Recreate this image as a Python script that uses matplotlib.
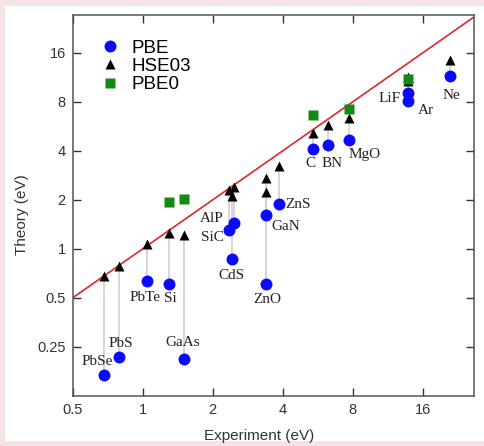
import numpy as np
import matplotlib
matplotlib.use("Agg")
from matplotlib import pyplot as plt
from matplotlib.patches import Rectangle

# band gaps (eV): experiment, PBE, HSE03, PBE0 (nan = not computed)
names = ['PbSe', 'PbS', 'PbTe', 'Si', 'GaAs', 'SiC', 'AlP', 'CdS', 'ZnO', 'GaN',
         'ZnS', 'C', 'BN', 'MgO', 'LiF', 'Ar', 'Ne']
exp_gap = [0.68, 0.79, 1.04, 1.30, 1.505, 2.36, 2.47, 2.43, 3.38, 3.38,
           3.86, 5.38, 6.29, 7.74, 13.9, 13.9, 21.0]
pbe_gap = [0.167, 0.215, 0.633, 0.605, 0.21, 1.30, 1.44, 0.87, 0.61, 1.62,
           1.89, 4.11, 4.32, 4.66, 9.05, 8.1, 11.5]
hse_gap = [0.68, 0.785, 1.07, 1.25, 1.21, 2.30, 2.40, 2.12, 2.25, 2.72,
           3.25, 5.19, 5.77, 6.41, 11.4, 10.8, 14.4]
pbe0_gap = [np.nan, np.nan, np.nan, 1.94, 2.02, np.nan, np.nan, np.nan, np.nan, np.nan,
            np.nan, 6.63, np.nan, 7.27, 11.1, np.nan, np.nan]

# label positions (data coords)
lab_x = [0.64, 0.807, 1.023, 1.31, 1.486, 1.99, 1.98, 2.40, 3.42, 4.12,
         4.67, 5.28, 6.5, 9.03, 11.57, 16.5, 21.4]
lab_y = [0.204, 0.261, 0.503, 0.493, 0.264, 1.17, 1.53, 0.684, 0.487, 1.37,
         1.86, 3.36, 3.36, 3.78, 8.36, 7.1, 8.8]

ticks = [0.5, 1, 2, 4, 8, 16]
yticks = [0.25, 0.5, 1, 2, 4, 8, 16]

fig = plt.figure(figsize=(4.85, 4.46), dpi=100)
fig.patch.set_facecolor('#f8e3e4')
fig.patches.append(Rectangle((5/485, 5/446), 1, 435/446, transform=fig.transFigure,
                             facecolor='white', edgecolor='none', zorder=-10))

ax = fig.add_axes([0.15, 0.1128, 0.827, 0.853])
ax.set_xscale('log', base=2)
ax.set_yscale('log', base=2)

# gray connectors PBE -> HSE03
for e, p, h in zip(exp_gap, pbe_gap, hse_gap):
    ax.plot([e, e], [p, h], color='#cfcfcf', lw=1.2, zorder=1)

ax.plot([0.4, 40], [0.4, 40], color='#e0262a', lw=1.2, zorder=2)

ax.plot(exp_gap, pbe_gap, 'o', color='#0a0aff', ms=8.6, mec='none', zorder=3, label='PBE')
ax.plot(exp_gap, hse_gap, '^', color='black', ms=7.5, mec='none', zorder=4, label='HSE03')
ax.plot(exp_gap, pbe0_gap, 's', color='#138a13', ms=7.5, mec='none', zorder=5, label='PBE0')

for n, x, y in zip(names, lab_x, lab_y):
    ax.text(x, y, n, ha='center', va='center', fontsize=11,
            family='Liberation Serif', color='#222222')

ax.set_xlim(0.5, 26.6)
ax.set_ylim(0.125, 27.3)
ax.set_xticks(ticks)
ax.set_xticklabels([str(t) for t in ticks])
ax.set_yticks(yticks)
ax.set_yticklabels([str(t) for t in yticks])
ax.minorticks_off()
ax.tick_params(direction='in', length=6, width=1, top=True, right=True,
               labelsize=10.5, colors='#333333', pad=5)
for lbl in ax.get_xticklabels() + ax.get_yticklabels():
    lbl.set_family('Liberation Sans')
for s in ax.spines.values():
    s.set_color('#555555')
    s.set_linewidth(1.1)

ax.set_xlabel('Experiment (eV)', family='Liberation Sans', fontsize=11, color='#333333', labelpad=6)
ax.set_ylabel('Theory (eV)', family='Liberation Sans', fontsize=11, color='#333333', labelpad=5)
ax.xaxis.set_label_coords(0.465, -0.088)
ax.yaxis.set_label_coords(-0.11, 0.476)

leg = ax.legend(loc='upper left', bbox_to_anchor=(0.04, 0.955), frameon=False,
                prop={'family': 'Liberation Sans', 'size': 13.5}, handletextpad=0.4,
                labelspacing=0.05, handlelength=1.5, borderaxespad=0)

fig.savefig('out.png', dpi=100, facecolor=fig.get_facecolor())
